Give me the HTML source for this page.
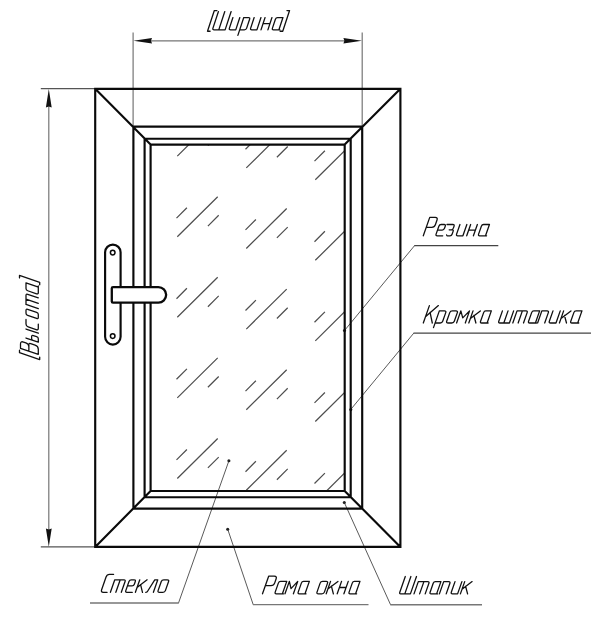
<!DOCTYPE html>
<html lang="ru">
<head>
<meta charset="utf-8">
<title>Окно</title>
<style>
html,body{margin:0;padding:0;background:#fff;}
body{width:600px;height:620px;overflow:hidden;font-family:"Liberation Sans",sans-serif;}
svg{display:block;}
</style>
</head>
<body>
<svg width="600" height="620" viewBox="0 0 600 620">
<rect width="600" height="620" fill="#fff"/>
<defs><clipPath id="gc"><rect x="150.60" y="144.60" width="194.10" height="346.40"/></clipPath></defs>
<path clip-path="url(#gc)" d="M177.30 75.50l40.4 -40M176.50 56.90l10.4 -10.4M207.90 64.90l10.8 -10.8M177.30 156.10l40.4 -40M176.50 137.50l10.4 -10.4M207.90 145.50l10.8 -10.8M177.30 236.70l40.4 -40M176.50 218.10l10.4 -10.4M207.90 226.10l10.8 -10.8M177.30 317.30l40.4 -40M176.50 298.70l10.4 -10.4M207.90 306.70l10.8 -10.8M177.30 397.90l40.4 -40M176.50 379.30l10.4 -10.4M207.90 387.30l10.8 -10.8M177.30 478.50l40.4 -40M176.50 459.90l10.4 -10.4M207.90 467.90l10.8 -10.8M177.30 559.10l40.4 -40M176.50 540.50l10.4 -10.4M207.90 548.50l10.8 -10.8M246.30 87.30l40.4 -40M245.50 68.70l10.4 -10.4M276.90 76.70l10.8 -10.8M246.30 167.90l40.4 -40M245.50 149.30l10.4 -10.4M276.90 157.30l10.8 -10.8M246.30 248.50l40.4 -40M245.50 229.90l10.4 -10.4M276.90 237.90l10.8 -10.8M246.30 329.10l40.4 -40M245.50 310.50l10.4 -10.4M276.90 318.50l10.8 -10.8M246.30 409.70l40.4 -40M245.50 391.10l10.4 -10.4M276.90 399.10l10.8 -10.8M246.30 490.30l40.4 -40M245.50 471.70l10.4 -10.4M276.90 479.70l10.8 -10.8M246.30 570.90l40.4 -40M245.50 552.30l10.4 -10.4M276.90 560.30l10.8 -10.8M315.30 99.10l40.4 -40M314.50 80.50l10.4 -10.4M345.90 88.50l10.8 -10.8M315.30 179.70l40.4 -40M314.50 161.10l10.4 -10.4M345.90 169.10l10.8 -10.8M315.30 260.30l40.4 -40M314.50 241.70l10.4 -10.4M345.90 249.70l10.8 -10.8M315.30 340.90l40.4 -40M314.50 322.30l10.4 -10.4M345.90 330.30l10.8 -10.8M315.30 421.50l40.4 -40M314.50 402.90l10.4 -10.4M345.90 410.90l10.8 -10.8M315.30 502.10l40.4 -40M314.50 483.50l10.4 -10.4M345.90 491.50l10.8 -10.8M315.30 582.70l40.4 -40M314.50 564.10l10.4 -10.4M345.90 572.10l10.8 -10.8" fill="none" stroke="#505050" stroke-width="1.25"/>
<path d="M133.1 32.5V126M362.2 32.5V126M150 40.8H345M48.8 106V530" fill="none" stroke="#767676" stroke-width="1.2"/>
<path d="M40.8 88.7H95M40.8 546.8H95" fill="none" stroke="#555" stroke-width="1.2"/>
<path d="M414.5 245.7L344.5 330.5M413.8 333.1L350.9 409.3M178.5 603L228.9 460.8M253.2 604.6L227.7 529.2M390.6 604.8L344.3 502.5" fill="none" stroke="#5a5a5a" stroke-width="1.0"/>
<path d="M498.3 245.7H414.2M591 333.1H413.5" fill="none" stroke="#444" stroke-width="1.2"/>
<path d="M90 603H178.8M368.5 604.6H252.9M482 604.8H390.3" fill="none" stroke="#777" stroke-width="1.45"/>
<path d="M133.4 40.8L152 38.1L151 40.8L152 43.5ZM362.0 40.8L343.4 38.1L344.4 40.8L343.4 43.5ZM48.8 88.9L45.9 107.4L48.8 106.4L51.7 107.4ZM48.8 546.7L45.9 528.4L48.8 529.4L51.7 528.4Z" fill="#111"/>
<circle cx="344.5" cy="330.5" r="1.55" fill="#222"/>
<circle cx="350.8" cy="409.6" r="1.55" fill="#222"/>
<circle cx="228.9" cy="460.8" r="1.55" fill="#222"/>
<circle cx="227.7" cy="529.2" r="1.55" fill="#222"/>
<circle cx="344.3" cy="502.5" r="1.55" fill="#222"/>
<path d="M95.20 88.80H400.40V546.90H95.20ZM133.40 126.60H362.20V508.60H133.40ZM144.60 138.70H350.70V497.20H144.60ZM150.60 144.60H344.70V491.00H150.60ZM95.20 88.80L150.60 144.60M400.40 88.80L344.70 144.60M95.20 546.90L150.60 491.00M400.40 546.90L344.70 491.00" fill="none" stroke="#0a0a0a" stroke-width="2.15" stroke-linejoin="miter"/>
<g fill="#fff" stroke="#0a0a0a" stroke-width="2.15">
<rect x="105.1" y="244.6" width="15.5" height="100" rx="7.75" ry="7.75"/>
<circle cx="112.7" cy="252.6" r="2.3" stroke-width="1.5"/>
<circle cx="112.7" cy="336.1" r="2.3" stroke-width="1.5"/>
<path d="M113 287.1H158.4A7.75 7.75 0 0 1 158.4 302.6H113Q111.8 302.6 111.8 301.4V288.3Q111.8 287.1 113 287.1Z" stroke-width="2.3"/>
</g>
<g fill="none" stroke="#111" stroke-width="1.30" stroke-linecap="round" stroke-linejoin="round">
<path transform="translate(207.95 29.85)" d="M8.97 -19.30L6.37 -19.30L-0.46 1.40L2.14 1.40M10.49 -18.30L5.01 -1.70Q4.45 0.00 6.14 0.00L17.15 0.00L23.19 -18.30M16.84 -18.30L10.80 0.00M24.96 -12.30L21.46 -1.70Q20.90 0.00 22.63 0.00L27.80 0.00L31.86 -12.30M35.81 -12.30L29.93 5.50M35.81 -12.30L40.51 -12.30Q42.21 -12.30 41.65 -10.60L38.71 -1.70Q38.15 0.00 36.45 0.00L31.75 0.00M46.21 -12.30L42.71 -1.70Q42.15 0.00 43.85 0.00L48.95 0.00L53.01 -12.30M57.11 -12.30L53.05 0.00M64.00 -12.30L59.95 0.00M55.12 -6.27L62.02 -6.27M75.01 -12.30L69.55 -12.30Q68.01 -12.30 67.45 -10.60L64.51 -1.70Q63.95 0.00 65.50 0.00L70.95 0.00M75.01 -12.30L71.13 -0.55Q70.95 0.00 71.45 0.00L71.95 0.00M79.02 -19.30L81.62 -19.30L74.79 1.40L72.19 1.40"/>
<path transform="translate(38.30 359.10) rotate(-90)" d="M8.88 -18.80L6.39 -18.80L-0.48 1.40L2.01 1.40M4.77 0.00L10.83 -17.80L15.22 -17.80Q18.09 -17.80 17.07 -14.80L16.26 -12.43Q15.24 -9.43 12.38 -9.43L7.98 -9.43M12.76 -9.43L14.48 -9.43Q16.20 -9.43 15.58 -7.63L14.08 -3.20Q12.99 0.00 9.93 0.00L4.77 0.00M21.09 -12.30L16.90 0.00L20.25 0.00Q21.87 0.00 22.45 -1.70L23.56 -4.97Q24.14 -6.67 22.51 -6.67L19.17 -6.67M30.06 -12.30L25.88 0.00M39.61 -12.30L35.03 -12.30Q32.93 -12.30 32.18 -10.10L29.49 -2.20Q28.75 0.00 30.85 0.00L35.05 0.00M42.15 -6.15L40.64 -1.70Q40.06 0.00 41.69 0.00L44.55 0.00Q46.17 0.00 46.75 -1.70L49.78 -10.60Q50.36 -12.30 48.73 -12.30L45.87 -12.30Q44.24 -12.30 43.67 -10.60ZM50.42 0.00L54.61 -12.30L63.77 -12.30Q65.40 -12.30 64.82 -10.60L61.22 0.00M60.00 -12.30L55.82 0.00M76.28 -12.30L70.55 -12.30Q68.93 -12.30 68.35 -10.60L65.33 -1.70Q64.75 0.00 66.37 0.00L72.10 0.00M76.28 -12.30L72.29 -0.55Q72.10 0.00 72.63 0.00L73.15 0.00M81.17 -18.80L83.65 -18.80L76.78 1.40L74.30 1.40"/>
<path transform="translate(423.30 235.80)" d="M0.00 0.00L6.44 -18.40L11.97 -18.40Q14.64 -18.40 13.73 -15.80L12.07 -11.06Q11.16 -8.46 8.50 -8.46L2.96 -8.46M14.22 -5.76L18.89 -5.76Q20.61 -5.76 21.21 -7.46L21.95 -9.60Q22.55 -11.30 20.82 -11.30L17.88 -11.30Q16.15 -11.30 15.56 -9.60L12.79 -1.70Q12.20 0.00 13.93 0.00L19.41 0.00M23.69 -11.30L29.60 -11.30Q31.34 -11.30 30.74 -9.60L30.07 -7.66Q29.47 -5.96 27.74 -5.96L25.90 -5.96M27.74 -5.96L29.04 -5.96Q30.34 -5.96 29.89 -4.69L28.78 -1.50Q28.25 0.00 26.72 0.00L24.16 0.00Q23.61 0.00 23.46 -0.45L23.31 -0.90M36.65 -11.30L33.29 -1.70Q32.70 0.00 34.42 0.00L39.60 0.00L43.55 -11.30M47.35 -11.30L43.40 0.00M54.06 -11.30L50.10 0.00M45.42 -5.76L52.12 -5.76M66.15 -11.30L60.31 -11.30Q58.65 -11.30 58.06 -9.60L55.29 -1.70Q54.70 0.00 56.36 0.00L62.20 0.00M66.15 -11.30L62.39 -0.55Q62.20 0.00 62.74 0.00L63.27 0.00"/>
<path transform="translate(423.30 323.00)" d="M0.00 0.00L6.09 -17.40M15.09 -17.40L2.19 -6.26M6.77 -10.61L9.00 0.00M16.04 -12.10L10.19 4.60M16.04 -12.10L21.18 -12.10Q23.04 -12.10 22.44 -10.40L19.40 -1.70Q18.80 0.00 16.94 0.00L11.80 0.00M24.92 -6.05L23.40 -1.70Q22.80 0.00 24.82 0.00L28.38 0.00Q30.40 0.00 31.00 -1.70L34.04 -10.40Q34.64 -12.10 32.62 -12.10L29.05 -12.10Q27.04 -12.10 26.44 -10.40ZM33.30 0.00L37.54 -12.10L39.43 -5.08L46.24 -12.10L42.00 0.00M49.73 -12.10L45.50 0.00M57.03 -12.10L47.11 -4.60M50.60 -7.50L52.59 0.00M68.03 -12.10L62.50 -12.10Q60.93 -12.10 60.34 -10.40L57.29 -1.70Q56.70 0.00 58.27 0.00L63.80 0.00M68.03 -12.10L63.99 -0.55Q63.80 0.00 64.31 0.00L64.81 0.00M79.13 -12.10L75.49 -1.70Q74.90 0.00 76.63 0.00L86.10 0.00L90.33 -12.10M84.73 -12.10L80.50 0.00M89.50 0.00L93.73 -12.10L102.83 -12.10Q104.43 -12.10 103.84 -10.40L100.20 0.00M99.08 -12.10L94.85 0.00M116.33 -12.10L110.57 -12.10Q108.93 -12.10 108.34 -10.40L105.29 -1.70Q104.70 0.00 106.33 0.00L112.10 0.00M116.33 -12.10L112.29 -0.55Q112.10 0.00 112.63 0.00L113.16 0.00M114.30 0.00L118.54 -12.10L123.75 -12.10Q125.64 -12.10 125.04 -10.40L121.40 0.00M129.69 -12.10L126.04 -1.70Q125.45 0.00 127.26 0.00L132.70 0.00L136.94 -12.10M140.33 -12.10L136.10 0.00M147.63 -12.10L137.71 -4.60M141.20 -7.50L143.19 0.00M158.64 -12.10L152.79 -12.10Q151.14 -12.10 150.54 -10.40L147.50 -1.70Q146.90 0.00 148.56 0.00L154.40 0.00M158.64 -12.10L154.59 -0.55Q154.40 0.00 154.94 0.00L155.47 0.00"/>
<path transform="translate(100.70 592.30)" d="M12.86 -17.90L8.86 -17.90Q6.26 -17.90 5.35 -15.30L0.91 -2.60Q0.00 0.00 2.60 0.00L6.40 0.00M9.70 0.00L14.08 -12.50L23.34 -12.50Q24.98 -12.50 24.38 -10.80L20.60 0.00M19.53 -12.50L15.15 0.00M26.73 -6.38L31.33 -6.38Q33.03 -6.38 33.63 -8.07L34.58 -10.80Q35.17 -12.50 33.48 -12.50L30.57 -12.50Q28.88 -12.50 28.28 -10.80L25.09 -1.70Q24.50 0.00 26.20 0.00L31.60 0.00M39.08 -12.50L34.70 0.00M46.38 -12.50L36.36 -4.75M39.89 -7.75L41.79 0.00M45.10 0.00L45.73 -0.10Q46.37 -0.20 46.74 -0.79L54.04 -12.50L57.08 -12.50L52.70 0.00M58.99 -6.25L57.39 -1.70Q56.80 0.00 58.74 0.00L62.16 0.00Q64.10 0.00 64.69 -1.70L67.88 -10.80Q68.47 -12.50 66.54 -12.50L63.11 -12.50Q61.17 -12.50 60.58 -10.80Z"/>
<path transform="translate(262.50 593.80)" d="M0.00 0.00L6.16 -17.60L11.83 -17.60Q14.56 -17.60 13.65 -15.00L12.14 -10.70Q11.23 -8.10 8.50 -8.10L2.83 -8.10M24.24 -12.40L18.16 -12.40Q16.44 -12.40 15.85 -10.70L12.70 -1.70Q12.10 0.00 13.82 0.00L19.90 0.00M24.24 -12.40L20.09 -0.55Q19.90 0.00 20.46 0.00L21.01 0.00M22.50 0.00L26.84 -12.40L28.52 -5.21L35.24 -12.40L30.90 0.00M46.84 -12.40L41.07 -12.40Q39.44 -12.40 38.85 -10.70L35.70 -1.70Q35.10 0.00 36.73 0.00L42.50 0.00M46.84 -12.40L42.69 -0.55Q42.50 0.00 43.03 0.00L43.56 0.00M56.07 -6.20L54.49 -1.70Q53.90 0.00 55.87 0.00L59.33 0.00Q61.30 0.00 61.89 -1.70L65.04 -10.70Q65.64 -12.40 63.67 -12.40L60.21 -12.40Q58.24 -12.40 57.64 -10.70ZM68.04 -12.40L63.70 0.00M75.44 -12.40L65.35 -4.71M68.90 -7.69L70.88 0.00M79.04 -12.40L74.70 0.00M85.74 -12.40L81.40 0.00M76.91 -6.32L83.62 -6.32M97.44 -12.40L91.91 -12.40Q90.34 -12.40 89.75 -10.70L86.59 -1.70Q86.00 0.00 87.57 0.00L93.10 0.00M97.44 -12.40L93.29 -0.55Q93.10 0.00 93.61 0.00L94.11 0.00"/>
<path transform="translate(399.20 593.90)" d="M6.09 -17.40L0.59 -1.70Q0.00 0.00 1.49 0.00L11.20 0.00L17.29 -17.40M11.69 -17.40L5.60 0.00M14.80 0.00L19.11 -12.30L28.62 -12.30Q30.31 -12.30 29.71 -10.60L26.00 0.00M24.71 -12.30L20.40 0.00M41.71 -12.30L36.17 -12.30Q34.61 -12.30 34.01 -10.60L30.90 -1.70Q30.30 0.00 31.87 0.00L37.40 0.00M41.71 -12.30L37.59 -0.55Q37.40 0.00 37.91 0.00L38.41 0.00M40.20 0.00L44.50 -12.30L49.50 -12.30Q51.30 -12.30 50.71 -10.60L47.00 0.00M55.80 -12.30L52.09 -1.70Q51.50 0.00 53.23 0.00L58.40 0.00L62.70 -12.30M65.50 -12.30L61.20 0.00M72.91 -12.30L62.84 -4.67M66.38 -7.63L68.38 0.00"/>
</g>
</svg>
</body>
</html>
